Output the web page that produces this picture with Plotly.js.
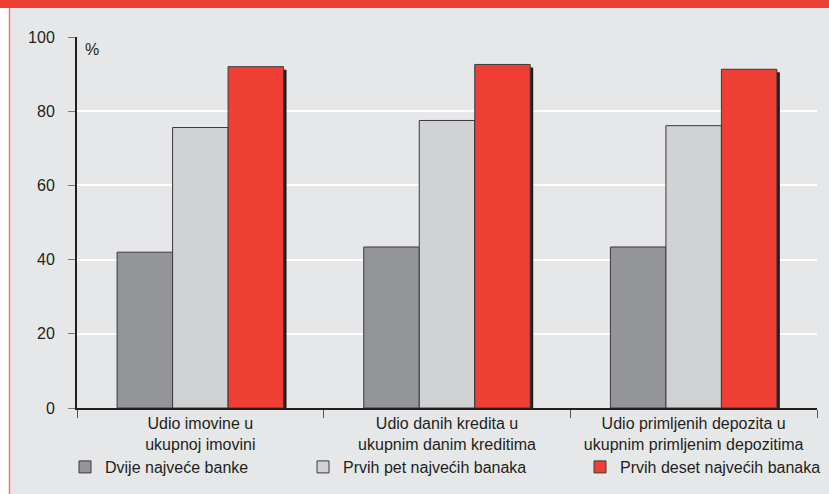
<!DOCTYPE html>
<html>
<head>
<meta charset="utf-8">
<script src="https://cdn.plot.ly/plotly-3.0.1.min.js"></script>
<style>
  html, body { margin: 0; padding: 0; background: #ffffff; }
  #chart { width: 829px; height: 494px; }
</style>
</head>
<body>
<div id="chart"></div>
<script>
// ---- data ----
const categories = [
  "Udio imovine u<br>ukupnoj imovini",
  "Udio danih kredita u<br>ukupnim danim kreditima",
  "Udio primljenih depozita u<br>ukupnim primljenim depozitima"
];
const seriesNames = [
  "Dvije najveće banke",
  "Prvih pet najvećih banaka",
  "Prvih deset najvećih banaka"
];
const twoLargest = [42.0, 43.4, 43.4];
const fiveLargest = [75.6, 77.5, 76.1];
const tenLargest = [92.0, 92.6, 91.3];
const yTicks = [0, 20, 40, 60, 80, 100];

// ---- styling ----
const colors = ["#939598", "#d1d2d4", "#ef3e33"];
const shadowColor = "#231f20";
const barWidth = 0.225;
const offsets = [-0.3375, -0.1125, 0.1125];
const legendWidths = [193, 232, 205];
const shadowDx = 0.012;   // ~3px
const shadowDy = 0.8;     // ~3px

const seriesValues = [twoLargest, fiveLargest, tenLargest];
const traces = [];

// shadows first (drawn behind)
seriesValues.forEach((vals, i) => {
  traces.push({
    type: "bar",
    x: categories,
    y: vals.map(v => v),
    base: vals.map(() => -shadowDy),
    width: barWidth,
    offset: offsets[i] + shadowDx,
    marker: { color: shadowColor, line: { width: 0 } },
    showlegend: false,
    hoverinfo: "skip",
    cliponaxis: false
  });
});

seriesValues.forEach((vals, i) => {
  traces.push({
    type: "bar",
    name: seriesNames[i],
    x: categories,
    y: vals,
    width: barWidth,
    offset: offsets[i],
    legendwidth: legendWidths[i],
    marker: { color: colors[i], line: { color: "#3a3a3c", width: 1 } },
    cliponaxis: false
  });
});

const W = 829, H = 494;
const mL = 77, mR = 12, mT = 37, mB = 86;
const pw = W - mL - mR, ph = H - mT - mB;
const px = x => (x - mL) / pw;
const py = y => (H - mB - y) / ph;

const layout = {
  width: W, height: H,
  margin: { l: mL, r: mR, t: mT, b: mB, pad: 0, autoexpand: false },
  paper_bgcolor: "#e6e7e8",
  plot_bgcolor: "#e6e7e8",
  barmode: "overlay",
  font: { family: "Liberation Sans, Arial, sans-serif", size: 16, color: "#231f20" },
  showlegend: true,
  legend: {
    orientation: "h",
    xref: "paper", yref: "paper",
    x: px(65), xanchor: "left",
    y: py(467), yanchor: "middle",
    bgcolor: "rgba(0,0,0,0)",
    font: { size: 16, color: "#231f20" },
    traceorder: "normal"
  },
  xaxis: {
    type: "category",
    range: [-0.5, 2.5],
    showline: true, linecolor: "#231f20", linewidth: 2,
    ticks: "outside", tickson: "boundaries", ticklen: 8, tickcolor: "#555555", tickwidth: 1,
    showgrid: false, zeroline: false,
    tickfont: { size: 16, color: "#231f20" },
    fixedrange: true
  },
  yaxis: {
    range: [0, 100],
    tickvals: yTicks,
    ticktext: yTicks.map(String),
    showline: true, linecolor: "#231f20", linewidth: 2,
    ticks: "outside", ticklen: 7, tickcolor: "#777777", tickwidth: 1,
    ticklabelstandoff: 10,
    showgrid: true, gridcolor: "#ffffff", gridwidth: 2,
    zeroline: false,
    tickfont: { size: 16, color: "#231f20" },
    fixedrange: true
  },
  annotations: [{
    text: "%", xref: "paper", yref: "paper",
    x: px(83), y: py(50), xanchor: "left", yanchor: "middle",
    showarrow: false, font: { size: 16, color: "#231f20" }
  }],
  shapes: [
    { type: "rect", xref: "paper", yref: "paper", x0: px(0), x1: px(W), y0: py(8), y1: py(0),
      fillcolor: "#ef3e33", line: { width: 0 }, layer: "below" },
    { type: "rect", xref: "paper", yref: "paper", x0: px(0), x1: px(9), y0: py(H), y1: py(8),
      fillcolor: "#ffffff", line: { width: 0 }, layer: "below" },
    { type: "line", xref: "paper", yref: "paper", x0: px(9.5), x1: px(9.5), y0: py(H), y1: py(8),
      line: { color: "#f07a72", width: 1.5 }, layer: "below" }
  ]
};

Plotly.newPlot("chart", traces, layout, { staticPlot: true, displayModeBar: false });
</script>
</body>
</html>
